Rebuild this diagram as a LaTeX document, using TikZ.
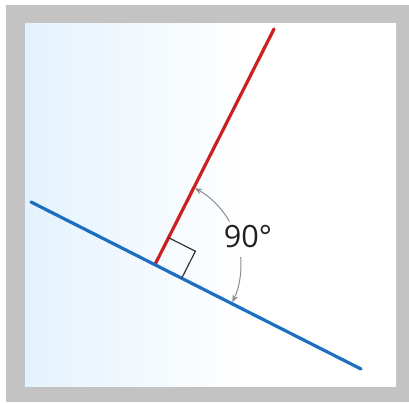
\documentclass[tikz,border=0pt]{standalone}
\usepackage{fontspec}
\setmainfont{Open Sans}
\usetikzlibrary{arrows.meta,calc}
\definecolor{bord}{HTML}{C3C3C3}
\definecolor{skyl}{HTML}{E4F2FD}
\definecolor{lineblue}{HTML}{1B6EC2}
\definecolor{linered}{HTML}{CC1F1F}
\definecolor{arcgray}{HTML}{8E8E8E}
\definecolor{txt}{HTML}{222222}
\pgfdeclarehorizontalshading{bgshade}{100bp}{color(0bp)=(skyl); color(25bp)=(skyl); color(55bp)=(white); color(100bp)=(white)}
\tikzset{
  blueline/.style={draw=lineblue, line width=2.4pt, line cap=round},
  redline/.style={draw=linered, line width=2.4pt, line cap=round},
  rightmark/.style={draw=black!80, line width=0.9pt},
  anglearc/.style={draw=arcgray, line width=0.75pt},
  anglelabel/.style={text=txt, font=\fontsize{23}{28}\selectfont, inner sep=0pt}
}
\begin{document}
\begin{tikzpicture}[x=0.75pt,y=-0.75pt]
\useasboundingbox (0,0) rectangle (409,402);
\fill[white] (0,0) rectangle (409,402);
\fill[bord] (6,5) rectangle (409,402);
\shade[shading=bgshade] (25,24) rectangle (396,386);
% geometry
\coordinate (B1) at (31,202);
\coordinate (B2) at (361,369);
\coordinate (I) at (155,264.5);
\coordinate (R2) at (274,29);
\coordinate (P1) at (168.6,237.7);
\coordinate (C) at (195.4,251.2);
\coordinate (P2) at (181.8,278);
% lines
\draw[redline] (I) -- (R2);
\draw[blueline] (B1) -- (B2);
\draw[rightmark] (P1) -- (C) -- (P2);
% angle arc
\draw[anglearc, {Stealth[length=5.5pt,width=4.5pt]}-] (I) ++(-62.5:86) arc[start angle=-62.5, end angle=-30, radius=86];
\draw[anglearc, -{Stealth[length=5.5pt,width=4.5pt]}] (I) ++(-5:86) arc[start angle=-5, end angle=26, radius=86];
\node[anglelabel] (lbl) at (248,237) {90°};
\end{tikzpicture}
\end{document}
